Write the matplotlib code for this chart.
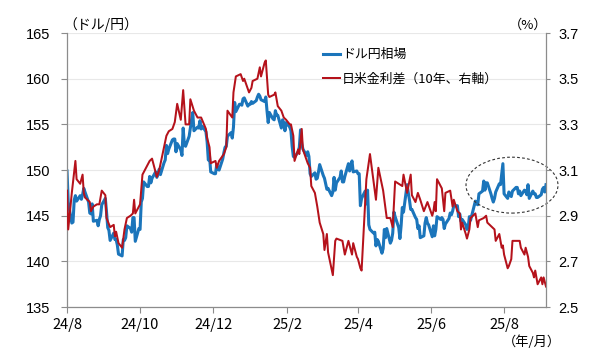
import numpy as np
import pandas as pd
import matplotlib
matplotlib.use('Agg')
from matplotlib import pyplot as plt
from matplotlib.patches import Ellipse

plt.rcParams['font.family'] = ['Noto Sans CJK JP', 'DejaVu Sans']

# USD/JPY, one value per business day, 2024-08-01 .. 2025-09-05
usdjpy = [
    # 2024/8
    149.9, 146.5, 144.2, 144.3, 146.7, 147.2, 146.6, 147.2, 146.8, 147.3, 148.0,
    147.6, 146.5, 145.3, 145.2, 146.3, 144.4, 144.5, 143.9, 144.6, 145.0, 146.2,
    # 2024/9
    146.9, 145.4, 143.7, 143.4, 142.3, 143.1, 142.4, 142.4, 141.8, 140.8, 140.6,
    142.4, 142.3, 142.6, 143.9, 143.6, 143.2, 144.8, 144.8, 142.2, 143.6,
    # 2024/10
    143.5, 146.5, 146.9, 148.7, 148.2, 148.2, 149.3, 148.6, 149.1, 149.8, 149.2,
    149.6, 150.1, 149.5, 150.8, 151.1, 152.7, 151.8, 152.3, 153.3, 153.4, 153.4, 152.0,
    # 2024/11
    152.9, 152.2, 151.6, 154.6, 152.8, 152.6, 153.7, 154.6, 155.5, 156.3, 154.3,
    154.7, 154.6, 155.4, 154.5, 154.8, 154.2, 153.1, 151.1, 151.5, 149.8,
    # 2024/12
    149.6, 149.6, 150.6, 150.1, 150.0, 151.2, 151.9, 152.5, 152.6, 153.7, 154.1,
    153.5, 154.7, 157.4, 156.4, 157.2, 157.2, 157.1, 157.8, 157.9, 157.0, 157.2,
    # 2025/1
    157.2, 157.5, 157.3, 157.6, 158.0, 158.3, 158.1, 157.7, 157.5, 158.0, 156.5,
    155.2, 156.3, 155.6, 155.5, 156.5, 156.0, 156.0, 154.6, 155.5, 155.2, 154.3, 155.2,
    # 2025/2
    154.7, 154.3, 152.6, 151.5, 151.4, 152.0, 152.5, 154.4, 152.9, 152.3, 151.6,
    152.0, 151.5, 149.6, 149.3, 149.7, 149.0, 149.1, 149.8, 150.6,
    # 2025/3
    149.4, 149.1, 148.5, 147.9, 148.0, 147.2, 147.6, 149.2, 147.8, 148.6, 149.2,
    149.9, 148.7, 148.7, 149.3, 150.7, 149.9, 150.6, 151.0, 149.8, 149.9,
    # 2025/4
    149.6, 149.6, 146.1, 146.9, 147.7, 146.3, 147.8, 144.0, 143.5, 143.1, 143.2,
    141.7, 142.4, 142.2, 140.9, 141.4, 143.5, 142.6, 143.6, 142.0, 142.3, 143.1,
    # 2025/5
    145.4, 144.9, 143.7, 142.5, 143.9, 145.9, 145.4, 148.4, 147.5, 146.7, 145.7,
    145.7, 144.8, 144.6, 143.6, 143.9, 142.6, 142.8, 144.2, 144.8, 144.2, 144.0,
    # 2025/6
    142.7, 143.9, 142.8, 143.5, 144.9, 144.6, 144.8, 144.6, 143.6, 144.1, 144.7,
    145.3, 145.1, 145.5, 146.1, 146.1, 144.9, 145.2, 144.4, 144.6, 144.0,
    # 2025/7
    143.5, 143.7, 144.9, 144.5, 146.1, 146.6, 146.3, 146.2, 147.4, 147.7, 148.8,
    147.8, 148.6, 148.6, 147.4, 146.9, 146.5, 146.9, 147.6, 148.5, 148.4, 149.5, 150.7,
    # 2025/8
    147.4, 146.9, 147.6, 147.4, 147.1, 147.7, 148.1, 148.1, 147.4, 147.7, 147.2,
    147.8, 147.7, 147.3, 148.4, 146.9, 147.7, 147.4, 147.4, 147.0, 147.0,
    # 2025/9
    147.3, 147.9, 148.1, 147.6, 148.4,
]

# US-Japan 10y yield spread (%, right axis)
spread_dates = [
    '2024-08-01', '2024-08-02', '2024-08-05', '2024-08-08', '2024-08-09', '2024-08-12',
    '2024-08-14', '2024-08-15', '2024-08-16', '2024-08-20', '2024-08-21', '2024-08-23',
    '2024-08-26', '2024-08-28', '2024-08-30', '2024-09-02', '2024-09-03', '2024-09-06',
    '2024-09-09', '2024-09-10', '2024-09-11', '2024-09-13', '2024-09-16', '2024-09-18',
    '2024-09-20', '2024-09-23', '2024-09-25', '2024-09-26', '2024-09-27', '2024-10-01',
    '2024-10-03', '2024-10-04', '2024-10-09', '2024-10-11', '2024-10-15', '2024-10-17',
    '2024-10-21', '2024-10-23', '2024-10-25', '2024-10-28', '2024-10-30', '2024-11-01',
    '2024-11-04', '2024-11-06', '2024-11-08', '2024-11-11', '2024-11-12', '2024-11-15',
    '2024-11-18', '2024-11-21', '2024-11-25', '2024-11-26', '2024-11-28', '2024-11-29',
    '2024-12-03', '2024-12-04', '2024-12-06', '2024-12-10', '2024-12-12', '2024-12-13',
    '2024-12-17', '2024-12-18', '2024-12-20', '2024-12-24', '2024-12-26', '2024-12-27',
    '2024-12-31', '2025-01-02', '2025-01-03', '2025-01-07', '2025-01-09', '2025-01-10',
    '2025-01-13', '2025-01-14', '2025-01-16', '2025-01-17', '2025-01-21', '2025-01-22',
    '2025-01-24', '2025-01-27', '2025-01-29', '2025-01-31', '2025-02-03', '2025-02-04',
    '2025-02-06', '2025-02-07', '2025-02-10', '2025-02-11', '2025-02-13', '2025-02-14',
    '2025-02-18', '2025-02-20', '2025-02-21', '2025-02-24', '2025-02-26', '2025-02-28',
    '2025-03-03', '2025-03-04', '2025-03-06', '2025-03-07', '2025-03-11', '2025-03-13',
    '2025-03-14', '2025-03-19', '2025-03-21', '2025-03-24', '2025-03-27', '2025-03-28',
    '2025-03-31', '2025-04-01', '2025-04-03', '2025-04-04', '2025-04-08', '2025-04-11',
    '2025-04-16', '2025-04-18', '2025-04-22', '2025-04-25', '2025-04-28', '2025-04-30',
    '2025-05-02', '2025-05-05', '2025-05-08', '2025-05-09', '2025-05-12', '2025-05-15',
    '2025-05-16', '2025-05-19', '2025-05-21', '2025-05-23', '2025-05-26', '2025-05-29',
    '2025-06-02', '2025-06-03', '2025-06-04', '2025-06-05', '2025-06-06', '2025-06-10',
    '2025-06-12', '2025-06-13', '2025-06-17', '2025-06-19', '2025-06-20', '2025-06-23',
    '2025-06-25', '2025-06-26', '2025-06-27', '2025-06-30', '2025-07-01', '2025-07-03',
    '2025-07-04', '2025-07-08', '2025-07-10', '2025-07-11', '2025-07-15', '2025-07-17',
    '2025-07-18', '2025-07-22', '2025-07-24', '2025-07-25', '2025-07-28', '2025-07-30',
    '2025-07-31', '2025-08-01', '2025-08-04', '2025-08-05', '2025-08-07', '2025-08-08',
    '2025-08-12', '2025-08-14', '2025-08-15', '2025-08-18', '2025-08-19', '2025-08-21',
    '2025-08-22', '2025-08-25', '2025-08-26', '2025-08-27', '2025-08-29', '2025-09-01',
    '2025-09-02', '2025-09-03', '2025-09-05',
]
spread_vals = [
    3.01, 2.84, 3.00, 3.14, 3.06, 3.04,
    3.08, 3.00, 2.98, 2.96, 2.92, 2.94,
    2.95, 2.95, 3.01, 2.99, 2.89, 2.85,
    2.86, 2.81, 2.83, 2.78, 2.76, 2.84,
    2.89, 2.90, 2.91, 2.97, 2.91, 2.95,
    3.08, 3.09, 3.14, 3.15, 3.07, 3.10,
    3.20, 3.25, 3.27, 3.28, 3.31, 3.39,
    3.32, 3.45, 3.30, 3.30, 3.41, 3.36,
    3.33, 3.33, 3.28, 3.24, 3.20, 3.13,
    3.14, 3.11, 3.14, 3.17, 3.20, 3.36,
    3.33, 3.44, 3.51, 3.52, 3.49, 3.50,
    3.44, 3.46, 3.49, 3.50, 3.55, 3.51,
    3.57, 3.58, 3.43, 3.42, 3.43, 3.44,
    3.38, 3.36, 3.33, 3.32, 3.30, 3.30,
    3.25, 3.14, 3.19, 3.17, 3.28, 3.19,
    3.13, 3.11, 3.03, 3.00, 2.94, 2.87,
    2.82, 2.75, 2.82, 2.74, 2.64, 2.79,
    2.80, 2.79, 2.73, 2.79, 2.73, 2.78,
    2.72, 2.71, 2.67, 2.66, 3.06, 3.17,
    2.97, 3.11, 3.01, 2.89, 2.89, 2.85,
    3.05, 3.04, 3.03, 3.08, 3.00, 3.08,
    2.99, 2.96, 3.00, 2.97, 2.92, 2.96,
    2.90, 2.92, 2.96, 2.92, 3.06, 3.02,
    2.92, 3.00, 3.01, 2.94, 2.97, 2.92,
    2.91, 2.84, 2.87, 2.82, 2.80, 2.84,
    2.89, 2.91, 2.85, 2.88, 2.89, 2.90,
    2.87, 2.85, 2.84, 2.79, 2.82, 2.76,
    2.77, 2.73, 2.67, 2.68, 2.71, 2.79,
    2.79, 2.79, 2.76, 2.73, 2.76, 2.72,
    2.68, 2.65, 2.63, 2.66, 2.60, 2.63,
    2.60, 2.63, 2.59,
]

tick_dates = ['2024-08-01', '2024-10-01', '2024-12-01', '2025-02-01',
              '2025-04-01', '2025-06-01', '2025-08-01']
tick_labels = ['24/8', '24/10', '24/12', '25/2', '25/4', '25/6', '25/8']

fx_dates = pd.bdate_range('2024-08-01', '2025-09-05')
assert len(fx_dates) == len(usdjpy)
sp_dates = pd.to_datetime(spread_dates)

BLUE = '#1b75bb'
RED = '#b5121b'
GREY = '#8c8c8c'

fig = plt.figure(figsize=(6, 3.63), dpi=100)
ax = fig.add_axes([0.1117, 0.154, 0.7983, 0.755])
ax2 = ax.twinx()

l1, = ax.plot(fx_dates, usdjpy, color=BLUE, lw=2.2, label='ドル円相場')
l2, = ax2.plot(sp_dates, spread_vals, color=RED, lw=1.45, label='日米金利差（10年、右軸）')

ax.set_ylim(135, 165)
ax.set_yticks(np.arange(135, 166, 5))
ax2.set_ylim(2.5, 3.7)
ax2.set_yticks(np.arange(2.5, 3.71, 0.2))
ax2.set_yticklabels([f'{v:.1f}' for v in np.arange(2.5, 3.71, 0.2)])
ax.set_xlim(pd.Timestamp('2024-08-01'), pd.Timestamp('2025-09-05'))
ax.set_xticks(pd.to_datetime(tick_dates))
ax.set_xticklabels(tick_labels)

ax.grid(axis='y', color='#e8e8e8', lw=0.8)
ax.set_axisbelow(True)

for a in (ax, ax2):
    a.spines['top'].set_visible(False)
    for s in ('left', 'right', 'bottom'):
        a.spines[s].set_color(GREY)
        a.spines[s].set_linewidth(0.9)
ax.spines['right'].set_visible(False)
ax2.spines['left'].set_visible(False)
ax2.spines['bottom'].set_visible(False)

ax.tick_params(axis='y', length=4, color=GREY, pad=8, labelsize=10.5)
ax.tick_params(axis='x', length=4, color=GREY, pad=4, labelsize=10.5)
ax2.tick_params(axis='y', length=3, color=GREY, pad=6, labelsize=10.5)
for lab in ax.get_yticklabels() + ax2.get_yticklabels():
    lab.set_fontfamily(['Liberation Sans', 'DejaVu Sans'])

fig.text(0.106, 0.931, '（ドル/円）', fontsize=10, ha='left', va='center')
fig.text(0.913, 0.931, '（%）', fontsize=9.5, ha='right', va='center')
fig.text(0.935, 0.058, '（年/月）', fontsize=9.5, ha='right', va='center')

ax.legend(handles=[l1, l2], loc='upper left', bbox_to_anchor=(0.528, 0.885),
          bbox_transform=fig.transFigure, frameon=False, fontsize=9.3,
          handlelength=1.3, handletextpad=0.15, labelspacing=0.9, borderpad=0)

ell = Ellipse((0.929, 0.445), 0.192, 0.204, transform=ax2.transAxes,
              fill=False, ls=(0, (2.5, 2)), lw=0.8, color='#333333', clip_on=False)
ax2.add_patch(ell)

fig.savefig('out.png', dpi=100)
